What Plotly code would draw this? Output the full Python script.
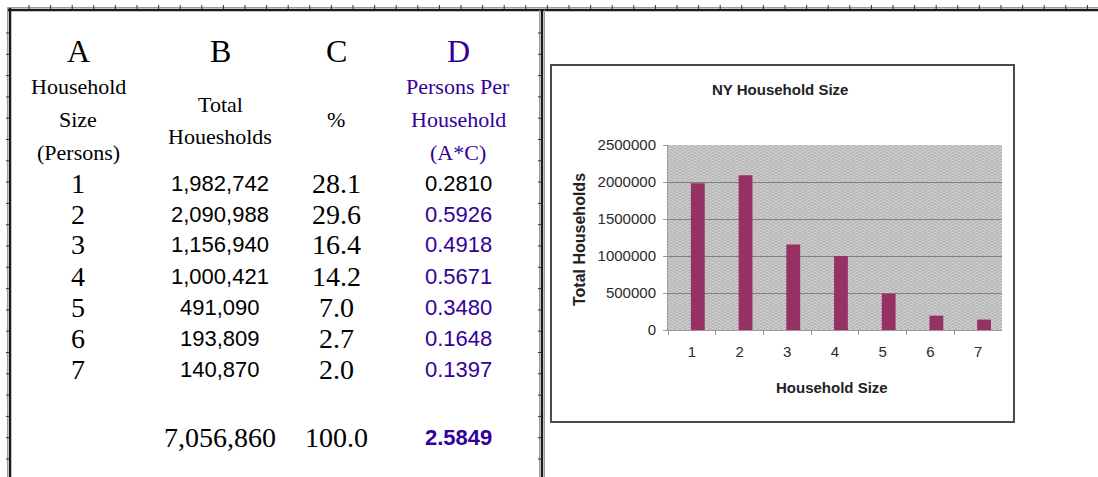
import base64
import plotly.graph_objects as go

# ---------------- data ----------------
household_size = [1, 2, 3, 4, 5, 6, 7]
total_households = [1982742, 2090988, 1156940, 1000421, 491090, 193809, 140870]
percent = [28.1, 29.6, 16.4, 14.2, 7.0, 2.7, 2.0]
persons_per_household = [0.2810, 0.5926, 0.4918, 0.5671, 0.3480, 0.1648, 0.1397]
total_all_households = 7056860
total_percent = 100.0
total_persons_per_household = 2.5849

col_letters = ["A", "B", "C", "D"]
header_a = ["Household", "Size", "(Persons)"]
header_b = ["Total", "Houesholds"]
header_c = ["%"]
header_d = ["Persons Per", "Household", "(A*C)"]

chart_title = "NY Household Size"
x_title = "Household Size"
y_title = "Total Households"
y_ticks = [0, 500000, 1000000, 1500000, 2000000, 2500000]

# ---------------- layout helpers ----------------
W, H = 1098, 477
SERIF = "Liberation Serif, Times New Roman, serif"
SANS = "Liberation Sans, Arial, sans-serif"
PURPLE = "#330099"


def px(x):
    return x / W


def py(y):
    return 1 - y / H


annotations = []


def label(text, x, y, size, family, color="#000000", bold=False, angle=0):
    if bold:
        text = "<b>" + text + "</b>"
    annotations.append(dict(
        text=text, x=px(x), y=py(y), xref="paper", yref="paper",
        xanchor="center", yanchor="middle", showarrow=False,
        textangle=angle, font=dict(size=size, family=family, color=color)))


# ---- table ----
col_x = [78, 220, 336, 458]
for letter, cx in zip(col_letters, col_x):
    label(letter, cx, 51, 32, SERIF, PURPLE if letter == "D" else "#000000")

for text, yy in zip(header_a, [87, 119, 152]):
    label(text, col_x[0], yy, 22, SERIF)
for text, yy in zip(header_b, [104, 136]):
    label(text, col_x[1], yy, 22, SERIF)
for text, yy in zip(header_c, [119]):
    label(text, col_x[2], yy, 22, SERIF)
for text, yy in zip(header_d, [87, 119, 152]):
    label(text, col_x[3], yy, 22, SERIF, PURPLE)

row_y0, row_step = 183, 31.0
for i, (a, b, c, d) in enumerate(zip(household_size, total_households,
                                     percent, persons_per_household)):
    yy = row_y0 + i * row_step
    label(str(a), col_x[0], yy, 28, SERIF)
    label(f"{b:,}", col_x[1], yy, 22, SANS)
    label(f"{c:.1f}", col_x[2], yy, 28, SERIF)
    label(f"{d:.4f}", col_x[3], yy, 22, SANS, "#000000" if i == 0 else PURPLE)

label(f"{total_all_households:,}", col_x[1], 437, 28, SERIF)
label(f"{total_percent:.1f}", col_x[2], 437, 28, SERIF)
label(f"{total_persons_per_household:.4f}", col_x[3], 437, 22, SANS, PURPLE, bold=True)

# ---- chart texts ----
label(chart_title, 780, 89, 15, SANS, "#222222", bold=True)
label(x_title, 832, 387, 15, SANS, "#222222", bold=True)
label(y_title, 579, 240, 16, SANS, "#222222", bold=True, angle=-90)

# ---------------- shapes (frames) ----------------
shapes = []


def line(x0, y0, x1, y1, color, width):
    shapes.append(dict(type="line", xref="paper", yref="paper",
                       x0=px(x0), y0=py(y0), x1=px(x1), y1=py(y1),
                       line=dict(color=color, width=width), layer="above"))


# outer table frame
line(7.5, 7.5, W, 7.5, "#9a9a9a", 1)
line(7.5, 10, W, 10, "#1a1a1a", 2.5)
line(7.5, 7.5, 7.5, H, "#9a9a9a", 1)
line(10, 8, 10, H, "#1a1a1a", 2.5)
line(539.5, 10, 539.5, H, "#9a9a9a", 1)
line(542, 9, 542, H, "#1a1a1a", 2.5)
line(544.5, 10, 544.5, H, "#9a9a9a", 1)

# small notches along the frame
path = []
x = 29.0
while x < W:
    path.append(f"M{px(x)},{py(5)} L{px(x)},{py(9)}")
    x += 21.6
y = 33.0
while y < H:
    path.append(f"M{px(6)},{py(y)} L{px(9)},{py(y)}")
    path.append(f"M{px(538)},{py(y)} L{px(541)},{py(y)}")
    y += 21.3
shapes.append(dict(type="path", xref="paper", yref="paper", path=" ".join(path),
                   line=dict(color="#333333", width=1), layer="above"))

# chart frame
shapes.append(dict(type="rect", xref="paper", yref="paper",
                   x0=px(551), y0=py(422), x1=px(1014), y1=py(65),
                   line=dict(color="#4a4a4a", width=2), layer="above"))

# plot-area weave texture (background only)
pw, ph = 1002 - 668, 330 - 145
svg = (f"<svg xmlns='http://www.w3.org/2000/svg' width='{pw}' height='{ph}'>"
       "<defs><pattern id='p' width='6' height='6' patternUnits='userSpaceOnUse'>"
       "<rect width='6' height='6' fill='#b8b8b8'/>"
       "<path d='M0 3 L3 0 L6 3 M0 6 L3 3 L6 6' stroke='#d3d3d3' stroke-width='1' fill='none'/>"
       "</pattern></defs>"
       f"<rect width='{pw}' height='{ph}' fill='url(#p)'/></svg>")
svg_uri = "data:image/svg+xml;base64," + base64.b64encode(svg.encode()).decode()

# ---------------- figure ----------------
fig = go.Figure()
fig.add_trace(go.Bar(
    x=[str(s) for s in household_size], y=total_households,
    marker=dict(color="#983163", line=dict(width=0)),
    width=0.29, offset=-0.02, hoverinfo="x+y"))

fig.update_layout(
    width=W, height=H, autosize=False,
    margin=dict(l=0, r=0, t=0, b=0, pad=0, autoexpand=False),
    paper_bgcolor="white",
    plot_bgcolor="#c2c2c2",
    showlegend=False,
    annotations=annotations,
    shapes=shapes,
    images=[dict(source=svg_uri, xref="paper", yref="paper",
                 x=px(668), y=py(145), sizex=pw / W, sizey=ph / H,
                 xanchor="left", yanchor="top", sizing="stretch",
                 layer="below")],
    xaxis=dict(domain=[px(668), px(1002)], type="category", automargin=False,
               showgrid=False, showline=True, linecolor="#9a9a9a", linewidth=1,
               ticks="outside", tickson="boundaries", ticklen=4,
               tickcolor="#9a9a9a", ticklabelstandoff=8,
               tickfont=dict(size=15, family=SANS, color="#2a2a2a"),
               fixedrange=True),
    yaxis=dict(domain=[py(330), py(145)], range=[0, 2500000], automargin=False,
               tickvals=y_ticks, ticktext=[str(v) for v in y_ticks],
               showgrid=True, gridcolor="#7f7f7f", gridwidth=1.2,
               showline=True, linecolor="#9a9a9a", linewidth=1,
               ticks="outside", ticklen=4, tickcolor="#9a9a9a",
               ticklabelstandoff=4, zeroline=False,
               tickfont=dict(size=15, family=SANS, color="#2a2a2a"),
               fixedrange=True),
)

fig.write_html(
    "out.html",
    config={"displayModeBar": False, "responsive": False},
    default_width="1098px", default_height="477px",
    post_script=("document.documentElement.style.margin='0';"
                 "document.body.style.margin='0';"
                 "document.body.style.padding='0';"
                 "document.body.style.overflow='hidden';"
                 "window.scrollTo(0,0);"),
)
